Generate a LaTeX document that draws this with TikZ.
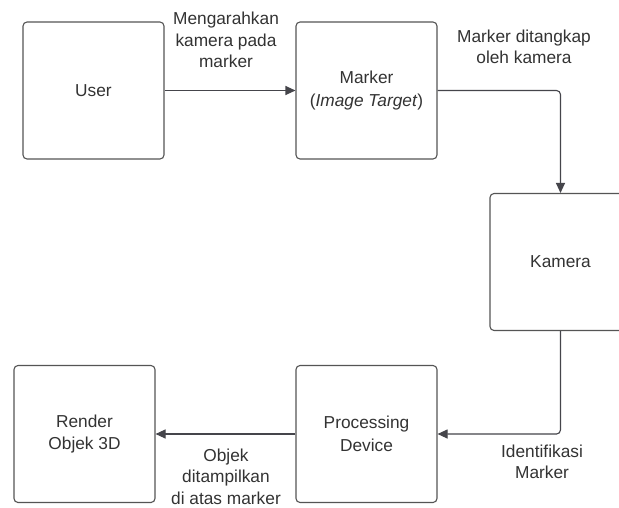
\documentclass[tikz,border=0pt]{standalone}
\usepackage{fontspec}
\setmainfont{Liberation Sans}
\usetikzlibrary{arrows.meta}
\definecolor{txt}{HTML}{333333}
\definecolor{edge}{HTML}{555555}
\definecolor{wire}{HTML}{45454B}
\tikzset{
  box/.style={draw=edge, line width=1.1pt, rounded corners=4pt, fill=white,
    minimum width=141pt, minimum height=137pt, inner sep=0pt,
    align=center, text=txt, font=\fontsize{17.3}{22.5}\selectfont},
  lbl/.style={align=center, text=txt, inner sep=0pt, font=\fontsize{17.3}{21.5}\selectfont},
  arr/.style={draw=wire, line width=1.1pt, -{Triangle[length=10pt,width=9pt]}}
}
\begin{document}
\begin{tikzpicture}[x=1pt,y=-1pt]
\clip (0,0) rectangle (619,507);
\fill[white] (0,0) rectangle (619,507);
\node[box] (user) at (93.5,90.5) {User};
\node[box] (marker) at (366.5,90.5) {Marker\\(\textit{Image Target})};
\node[box] (kamera) at (560.5,262) {Kamera};
\node[box] (proc) at (366.5,434) {Processing\\Device};
\node[box] (render) at (84.5,434) {Render\\Objek 3D};
\draw[arr] (user.east) -- (marker.west);
\draw[arr, rounded corners=4pt] (marker.east) -| (kamera.north);
\draw[arr, rounded corners=4pt] (kamera.south) |- (proc.east);
\draw[arr] (proc.west) -- (render.east);
\node[lbl] (l1) at (226,40) {Mengarahkan\\kamera pada\\marker};
\node[lbl] (l2) at (524,47) {Marker ditangkap\\oleh kamera};
\node[lbl] (l3) at (542,462) {Identifikasi\\Marker};
\node[lbl] (l4) at (226,476.5) {Objek\\ditampilkan\\di atas marker};
\end{tikzpicture}
\end{document}
